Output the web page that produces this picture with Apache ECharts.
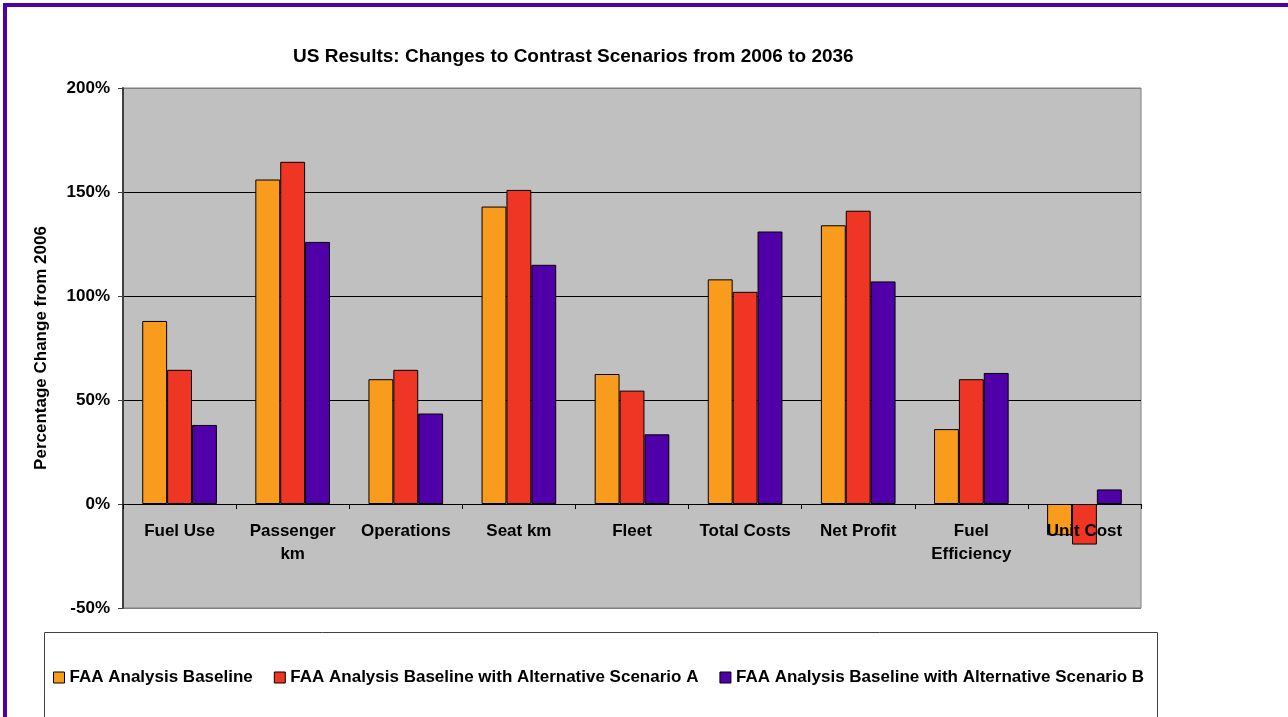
<!DOCTYPE html>
<html>
<head>
<meta charset="utf-8">
<script src="https://cdn.jsdelivr.net/npm/echarts@6/dist/echarts.min.js"></script>
<style>
html,body{margin:0;padding:0;background:#fff;}
#chart{width:1288px;height:717px;}
</style>
</head>
<body>
<div id="chart"></div>
<script>
const categories = ['Fuel Use', 'Passenger\nkm', 'Operations', 'Seat km', 'Fleet', 'Total Costs', 'Net Profit', 'Fuel\nEfficiency', 'Unit Cost'];
const seriesNames = ['FAA Analysis Baseline', 'FAA Analysis Baseline with Alternative Scenario A', 'FAA Analysis Baseline with Alternative Scenario B'];
const baseline = [88, 156, 60, 143, 62.5, 108, 134, 36, -15];
const scenarioA = [64.5, 164.5, 64.5, 151, 54.5, 102, 141, 60, -19.5];
const scenarioB = [38, 126, 43.5, 115, 33.5, 131, 107, 63, 7];
const yTicks = [-50, 0, 50, 100, 150, 200];
const colors = ['#F99B1C', '#EF3524', '#5000A8'];

const FONT = 'Liberation Sans, Arial, sans-serif';
const chart = echarts.init(document.getElementById('chart'));
const values = [baseline, scenarioA, scenarioB];

const gridTop = 88, gridBottom = 109, chartH = 717;
const plotH = chartH - gridTop - gridBottom;
// offset that moves the category axis from the plot bottom up to the 0% line
const zeroOffset = -plotH * (0 - yTicks[0]) / (yTicks[yTicks.length - 1] - yTicks[0]);

chart.setOption({
  animation: false,
  backgroundColor: '#ffffff',
  title: {
    text: 'US Results: Changes to Contrast Scenarios from 2006 to 2036',
    left: 288, top: 42,
    textStyle: { fontFamily: FONT, fontWeight: 'bold', fontSize: 19, color: '#000' }
  },
  graphic: [
    { type: 'rect', shape: { x: 3, y: 3, width: 4, height: 714 }, style: { fill: '#5000A8' }, z: 100 },
    { type: 'rect', shape: { x: 3, y: 3, width: 1285, height: 4 }, style: { fill: '#5000A8' }, z: 100 },
    { type: 'rect', shape: { x: 44.5, y: 632.5, width: 1113, height: 100 }, style: { fill: '#fff', stroke: '#404040', lineWidth: 1 }, z: -1 }
  ],
  legend: {
    left: 53, top: 669, padding: 0,
    itemWidth: 11, itemHeight: 11, itemGap: 21,
    icon: 'rect',
    textStyle: { fontFamily: FONT, fontWeight: 'bold', fontSize: 17, color: '#000' },
    itemStyle: { borderColor: '#000', borderWidth: 1 },
    data: seriesNames
  },
  grid: {
    left: 123, right: 147, top: gridTop, bottom: gridBottom,
    show: true, backgroundColor: '#C0C0C0', borderColor: '#808080', borderWidth: 1
  },
  xAxis: {
    type: 'category',
    data: categories,
    position: 'bottom',
    offset: zeroOffset,
    z: 10,
    axisLine: { show: true, onZero: false, lineStyle: { color: '#000', width: 1 } },
    axisTick: { show: true, length: 5, lineStyle: { color: '#000' } },
    axisLabel: { fontFamily: FONT, fontWeight: 'bold', fontSize: 17, color: '#000', margin: 16, lineHeight: 23, interval: 0 },
    splitLine: { show: false }
  },
  yAxis: {
    type: 'value',
    min: yTicks[0], max: yTicks[yTicks.length - 1], interval: 50,
    name: 'Percentage Change from 2006',
    nameLocation: 'middle', nameGap: 73,
    nameTextStyle: { fontFamily: FONT, fontWeight: 'bold', fontSize: 17, color: '#000' },
    axisLine: { show: true, lineStyle: { color: '#404040', width: 2 } },
    axisTick: { show: true, length: 5, lineStyle: { color: '#404040' } },
    axisLabel: { fontFamily: FONT, fontWeight: 'bold', fontSize: 17, color: '#000', margin: 13, formatter: '{value}%' },
    splitLine: { show: true, lineStyle: { color: ['#808080', '#000000', '#000000', '#000000', '#000000', '#808080'], width: 1 } }
  },
  series: seriesNames.map((n, i) => ({
    name: n,
    type: 'bar',
    data: values[i],
    barGap: '0%',
    barCategoryGap: '34%',
    itemStyle: { color: colors[i], borderColor: '#000', borderWidth: 1 }
  }))
});
</script>
</body>
</html>
